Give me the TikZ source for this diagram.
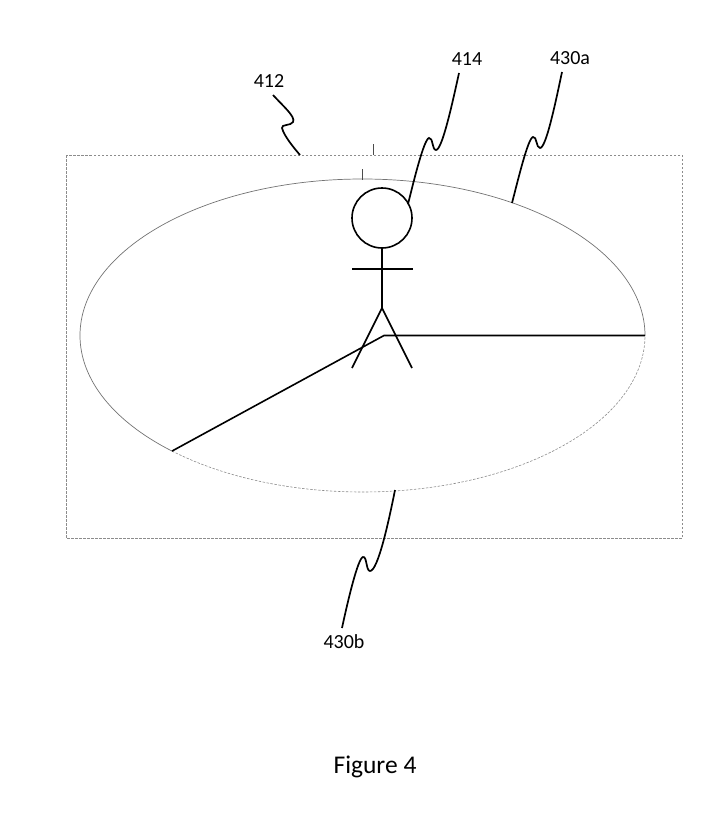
\documentclass[tikz,border=0pt]{standalone}
\usepackage{fontspec}
\setmainfont{Carlito}
\usetikzlibrary{calc}
\begin{document}
\begin{tikzpicture}[x=1pt,y=-1pt,
  frame/.style={draw=black!45,line width=0.6pt,dash pattern=on 2.5pt off 1.5pt},
  ring/.style={draw=black!55,line width=0.7pt},
  ringdash/.style={draw=black!45,line width=0.6pt,dash pattern=on 2.5pt off 1.5pt},
  figline/.style={draw=black,line width=1.6pt},
  leader/.style={draw=black,line width=1.7pt},
  tick/.style={draw=black!70,line width=0.6pt},
  lbl/.style={font=\fontsize{20}{23}\selectfont,inner sep=0pt}]
\useasboundingbox (0,0) rectangle (715,835);
% frame
\draw[frame] (66,155) rectangle (682,538);
% ellipse pieces
\coordinate (ec) at (362.5,335.5);
\coordinate (eR) at (645,335.5);
\coordinate (eL) at ($(ec)+(132.4:282.5 and 156.5)$);
\draw[ring] (eR) arc[start angle=0,end angle=-227.6,x radius=282.5,y radius=156.5];
\draw[ringdash] (eL) arc[start angle=132.4,end angle=0,x radius=282.5,y radius=156.5];
% sector lines
\coordinate (corner) at (384,335.5);
\draw[figline] (eL) -- (corner) -- (eR);
% ticks
\coordinate (t1a) at (373,144); \coordinate (t1b) at (373,155);
\coordinate (t2a) at (362,169); \coordinate (t2b) at (362,180);
\draw[tick] (t1a) -- (t1b);
\draw[tick] (t2a) -- (t2b);
% stick figure
\node[circle,draw,line width=1.6pt,minimum size=60pt,inner sep=0pt] (head) at (382,218) {};
\coordinate (hip) at (382,308);
\coordinate (armL) at (352,269); \coordinate (armR) at (413,269);
\coordinate (footL) at (352,368); \coordinate (footR) at (412,368);
\draw[figline] (head.south) -- (hip);
\draw[figline] (armL) -- (armR);
\draw[figline] (footL) -- (hip) -- (footR);
% labels
\node[lbl] (l412) at (269,81) {412};
\node[lbl] (l414) at (467,59) {414};
\node[lbl] (l430a) at (570,58) {430a};
\node[lbl] (l430b) at (344,642) {430b};
\node[font=\fontsize{25.5}{30}\selectfont,inner sep=0pt] (cap) at (375,767) {Figure 4};
% leaders
\draw[leader] (273,95) .. controls (283,106) and (296,117) .. (293,122)
  .. controls (291,126) and (281,124) .. (282,128)
  .. controls (284,136) and (294,148) .. (300,155);
\draw[leader] (459,73) .. controls (452,105) and (442,150) .. (436,150)
  .. controls (432,150) and (433,137) .. (429,138)
  .. controls (424,139) and (414,180) .. (408,204);
\draw[leader] (562,72) .. controls (555,105) and (546,148) .. (540,148)
  .. controls (536,148) and (537,136) .. (533,137)
  .. controls (528,138) and (518,180) .. (512,203);
\draw[leader] (395,490) .. controls (389,520) and (378,571) .. (370,571)
  .. controls (366,571) and (367,556) .. (363,557)
  .. controls (358,558) and (348,600) .. (342,628);
\end{tikzpicture}
\end{document}
